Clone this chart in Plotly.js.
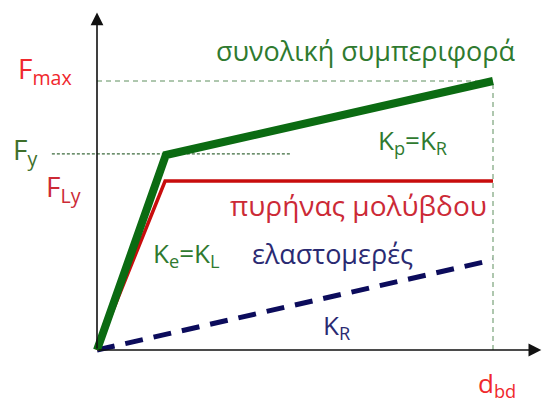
<!DOCTYPE html>
<html>
<head>
<meta charset="utf-8">
<script src="https://cdn.plot.ly/plotly-3.0.1.min.js"></script>
<style>html,body{margin:0;padding:0;background:#fff;}#chart{width:542px;height:403px;}</style>
</head>
<body>
<div id="chart"></div>
<script>
// Data (displacement d, force F), arbitrary units: d_bd = 10, F_max = 10
const totalD = [0, 1.74, 10];
const totalF = [0, 7.25, 10];
const leadD = [0, 1.72, 10];
const leadF = [0, 6.28, 6.28];
const rubberD = [0, 10];
const rubberF = [0, 3.35];
const dbd = 10;
const Fmax = 10;
const Fy = 7.29;

const FONT = "Open Sans";
const green = "#0b6b12";
const greenText = "#2f7a2f";
const red = "#c80d0d";
const redText = "#cc2a36";
const brightRed = "#f0282d";
const navy = "#0c0c5c";
const navyText = "#2a2a72";

// pixel helpers for text placement (paper coords)
const W = 542, H = 403;
const px = v => v / W, py = v => 1 - v / H;

const traces = [
  {x: rubberD, y: rubberF, mode: "lines", line: {color: navy, width: 5, dash: "18px,11px"}, hoverinfo: "skip"},
  {x: leadD, y: leadF, mode: "lines", line: {color: red, width: 3.5}, hoverinfo: "skip"},
  {x: totalD, y: totalF, mode: "lines", line: {color: green, width: 8}, hoverinfo: "skip"}
];

const shapes = [
  // Fmax guide
  {type: "line", xref: "x", yref: "y", x0: 0, x1: dbd, y0: Fmax, y1: Fmax, line: {color: "#5e8f5e", width: 1, dash: "5px,4px"}, layer: "below"},
  // d_bd guide
  {type: "line", xref: "x", yref: "y", x0: dbd, x1: dbd, y0: 0, y1: Fmax, line: {color: "#5e8f5e", width: 1, dash: "5px,4px"}, layer: "below"},
  // Fy guide
  {type: "line", xref: "x", yref: "y", x0: -1.14, x1: 4.87, y0: Fy, y1: Fy, line: {color: "#3d6b3d", width: 1.3, dash: "3px,2px"}, layer: "below"}
];

const ann = (text, x, y, size, color) => ({text, x: px(x), y: py(y), xref: "paper", yref: "paper", showarrow: false, xanchor: "center", yanchor: "middle", font: {family: FONT, size, color}});

const annotations = [
  // axes with arrows
  {x: 0, y: 12.55, ax: 0, ay: 0, xref: "x", yref: "y", axref: "x", ayref: "y", text: "", showarrow: true, arrowhead: 2, arrowsize: 1.6, arrowwidth: 1.6, arrowcolor: "#111"},
  {x: 11.22, y: 0, ax: 0, ay: 0, xref: "x", yref: "y", axref: "x", ayref: "y", text: "", showarrow: true, arrowhead: 2, arrowsize: 1.6, arrowwidth: 1.6, arrowcolor: "#111"},
  ann("συνολική συμπεριφορά", 366, 50, 27, greenText),
  ann("K<sub>p</sub>=K<sub>R</sub>", 412, 141, 26, greenText),
  ann("πυρήνας μολύβδου", 358, 205, 28, redText),
  ann("K<sub>e</sub>=K<sub>L</sub>", 186, 254, 26, greenText),
  ann("ελαστομερές", 332, 254, 27, navyText),
  ann("K<sub>R</sub>", 336, 326, 26, navyText),
  ann("F<sub>max</sub>", 45, 70, 28, brightRed),
  ann("F<sub>y</sub>", 25, 151, 28, "#3f6f2a"),
  ann("F<sub>Ly</sub>", 63, 188, 28, redText),
  ann("d<sub>bd</sub>", 497, 384, 26, brightRed)
];

const layout = {
  width: W, height: H,
  margin: {l: 0, r: 0, t: 0, b: 0},
  paper_bgcolor: "#fff", plot_bgcolor: "#fff",
  showlegend: false,
  xaxis: {range: [-97 / 39.6, 445 / 39.6], visible: false, fixedrange: true},
  yaxis: {range: [-53 / 26.9, 350 / 26.9], visible: false, fixedrange: true},
  shapes, annotations
};

Plotly.newPlot("chart", traces, layout, {displayModeBar: false, staticPlot: true});
</script>
</body>
</html>
